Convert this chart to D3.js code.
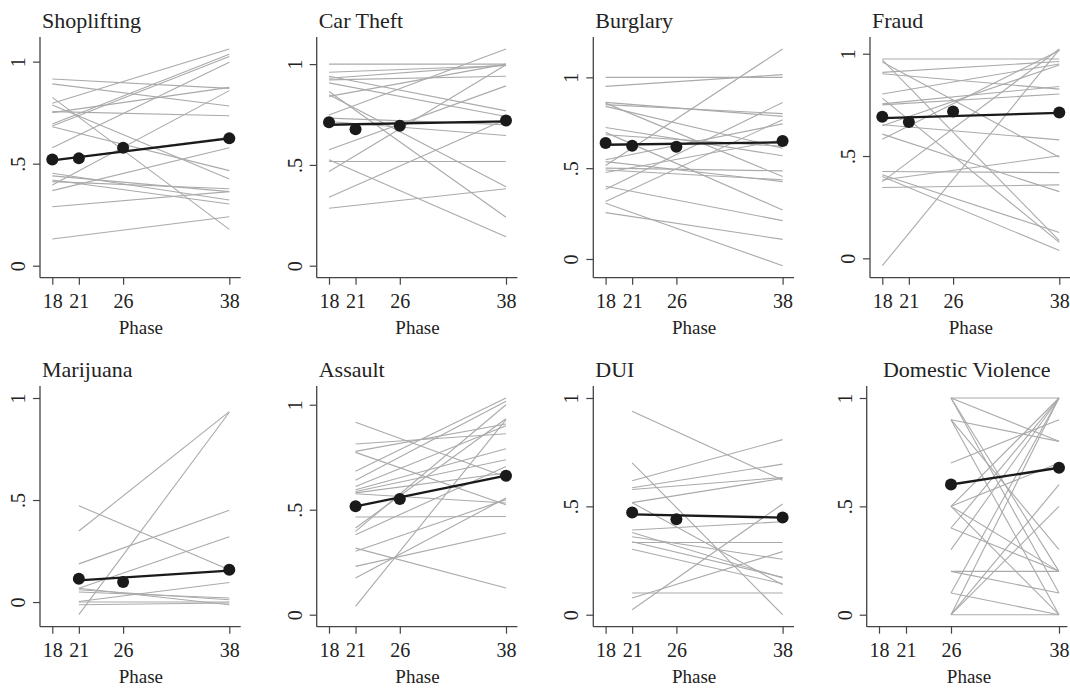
<!DOCTYPE html>
<html>
<head>
<meta charset="utf-8">
<script src="https://cdn.jsdelivr.net/npm/d3@7"></script>
<style>
  body { margin: 0; background: #fff; }
  svg text { font-family: "Liberation Serif", "Times New Roman", serif !important; fill: #222; }
</style>
</head>
<body>
<svg id="chart" width="1070" height="688"></svg>
<script>
// phases (age at interview) and crime types
var phases = [18, 21, 26, 38];
var crimes = ["Shoplifting", "Car Theft", "Burglary", "Fraud",
              "Marijuana", "Assault", "DUI", "Domestic Violence"];
var firstPhase = [18, 18, 18, 18, 21, 21, 21, 26];

// mean at each phase (null = not asked)
var phaseMeans = [
  [0.521, 0.526, 0.578, 0.624],
  [0.712, 0.677, 0.694, 0.720],
  [0.638, 0.623, 0.618, 0.649],
  [0.692, 0.666, 0.718, 0.713],
  [null, 0.114, 0.098, 0.158],
  [null, 0.516, 0.551, 0.662],
  [null, 0.472, 0.440, 0.449],
  [null, null, 0.601, 0.678]
];

// fitted average line: value at first phase, value at 38
var fitStart = [0.516, 0.699, 0.629, 0.685, 0.106, 0.516, 0.463, 0.601];
var fitEnd   = [0.624, 0.716, 0.642, 0.711, 0.154, 0.662, 0.448, 0.678];

// individual trajectories [value at first phase, value at 38]
var shoplifting = [[0.915,0.869],[0.891,0.783],[0.796,1.062],[0.825,0.178],[0.788,0.425],
  [0.755,0.735],[0.75,0.874],[0.694,1.036],[0.685,1.025],[0.681,0.466],[0.578,0.997],
  [0.395,0.858],[0.368,0.578],[0.453,0.322],[0.42,0.302],[0.412,0.377],[0.289,0.363],
  [0.131,0.240],[0.515,0.629],[0.44,0.363]];
var carTheft = [[1.0,1.0],[0.96,0.993],[0.922,0.94],[0.94,0.768],[0.907,0.74],[0.84,1.0],
  [0.848,0.392],[0.864,0.24],[0.748,1.075],[0.732,0.70],[0.715,0.646],[0.575,0.892],
  [0.517,0.517],[0.525,0.144],[0.467,0.997],[0.339,0.727],[0.285,0.382],[0.93,0.995]];
var burglary = [[1.0,1.0],[0.95,1.015],[0.862,0.785],[0.85,0.80],[0.84,0.61],[0.858,0.454],
  [0.724,0.568],[0.697,0.27],[0.684,0.62],[0.546,0.744],[0.515,1.156],[0.50,0.485],
  [0.49,0.436],[0.476,0.656],[0.384,0.862],[0.316,0.767],[0.40,0.211],[0.307,-0.037],
  [0.255,0.108],[0.536,0.426]];
var fraud = [[0.974,0.974],[0.909,0.962],[0.902,0.827],[0.97,0.086],[0.96,0.494],[0.803,0.95],
  [0.783,0.078],[0.755,0.84],[0.75,0.803],[0.653,0.579],[0.607,0.326],[0.582,1.016],
  [0.424,0.419],[0.408,0.126],[0.383,0.501],[0.375,1.023],[0.346,0.359],[-0.036,1.02],
  [0.40,0.038],[0.648,0.945]];
var marijuana = [[0.348,0.933],[-0.062,0.93],[0.472,0.158],[0.187,0.45],[0.068,0.32],
  [0.003,0.096],[0.068,-0.013],[0.06,0.011],[0.049,0.02],[0,0],[-0.013,-0.005]];
var assault = [[0.916,0.656],[0.813,0.862],[0.778,0.908],[0.773,0.524],[0.683,1.032],
  [0.64,1.016],[0.595,0.79],[0.587,0.738],[0.576,0.532],[0.465,0.468],[0.413,0.933],
  [0.397,1.0],[0.381,0.706],[0.317,0.127],[0.302,0.548],[0.23,0.389],[0.175,0.556],
  [0.04,0.929],[0.611,0.9],[0.58,0.675]];
var dui = [[0.939,0.621],[0.618,0.808],[0.586,0.695],[0.578,0.633],[0.517,0.629],[0.701,0],
  [0.391,0.429],[0.379,0.169],[0.36,0.256],[0.337,0.173],[0.302,0.143],[0.333,0.333],
  [0.1,0.1],[0.077,0.291],[0.023,0.511],[0.517,0.138]];
var domesticViolence = [[1,1],[1,0.8],[1,0.2],[0.9,0.8],[0.9,0],[0.7,0.9],[0.5,1],[0.5,0.7],
  [0.5,0.2],[0.5,0],[0.4,1],[0.4,0.2],[0.3,1],[0.2,0.2],[0.2,0.1],[0.1,1],[0.1,0],[0,1],
  [0,0.6],[0,0.5],[0,0],[0.9,0.3],[1,0.1]];

var trajectories = [shoplifting, carTheft, burglary, fraud,
                    marijuana, assault, dui, domesticViolence];
var yTicks = [0, 0.5, 1];

var svg = d3.select("#chart");
var colLeft = [40, 316.7, 593.3, 870];
var rowTop = [37, 386];
var plotW = 200.7, plotH = 240.7, pad = 12.3;

crimes.forEach(function(name, i) {
  var left = colLeft[i % 4], top = rowTop[Math.floor(i / 4)];
  var bottom = top + plotH;
  var xEnd = left + pad + 177;
  if (i === 7) { left -= 3.3; xEnd = left + pad + 180; } // last panel is a bit wider

  var lines = trajectories[i];
  var vals = d3.merge(lines).concat(yTicks);
  var x = d3.scaleLinear().domain([18, 38]).range([left + pad, xEnd]);
  var y = d3.scaleLinear().domain(d3.extent(vals)).range([bottom - 12, top + 12]);

  var g = svg.append("g");

  // individual trajectories
  g.selectAll("line.traj")
    .data(lines)
    .join("line")
    .attr("class", "traj")
    .attr("x1", x(firstPhase[i])).attr("x2", x(38))
    .attr("y1", function(d) { return y(d[0]); })
    .attr("y2", function(d) { return y(d[1]); })
    .attr("stroke", "#aaaaaa")
    .attr("stroke-width", 1.1);

  // fitted average
  g.append("line")
    .attr("x1", x(firstPhase[i])).attr("x2", x(38))
    .attr("y1", y(fitStart[i])).attr("y2", y(fitEnd[i]))
    .attr("stroke", "#1a1a1a")
    .attr("stroke-width", 2.4);

  var pts = phases.map(function(p, k) { return [p, phaseMeans[i][k]]; })
                  .filter(function(d) { return d[1] !== null; });
  g.selectAll("circle")
    .data(pts)
    .join("circle")
    .attr("cx", function(d) { return x(d[0]); })
    .attr("cy", function(d) { return y(d[1]); })
    .attr("r", 6)
    .attr("fill", "#1a1a1a");

  // axes
  var xAxis = g.append("g")
    .attr("transform", "translate(0," + bottom + ")")
    .call(d3.axisBottom(x).tickValues(phases).tickSize(7).tickSizeOuter(0).tickPadding(9));
  var yAxis = g.append("g")
    .attr("transform", "translate(" + left + ",0)")
    .call(d3.axisLeft(y).tickValues(yTicks).tickSize(7).tickSizeOuter(0)
      .tickFormat(function(d) { return d === 0.5 ? ".5" : d; }));

  xAxis.attr("font-size", 20);
  yAxis.attr("font-size", 20);
  xAxis.select(".domain").remove();
  yAxis.select(".domain").remove();
  g.selectAll(".tick line").attr("stroke", "#444").attr("stroke-width", 1.2);
  xAxis.selectAll("text").attr("fill", "#222");
  yAxis.selectAll("text")
    .attr("fill", "#222")
    .attr("x", null).attr("dy", null)
    .attr("text-anchor", "middle")
    .attr("transform", "translate(-15,0) rotate(-90)");

  g.append("line")
    .attr("x1", left).attr("x2", left).attr("y1", top).attr("y2", bottom)
    .attr("stroke", "#444").attr("stroke-width", 1.3);
  g.append("line")
    .attr("x1", left).attr("x2", Math.min(left + plotW, 1070)).attr("y1", bottom).attr("y2", bottom)
    .attr("stroke", "#444").attr("stroke-width", 1.3);

  g.append("text")
    .attr("x", (left + xEnd + pad) / 2)
    .attr("y", bottom + 56.5)
    .attr("text-anchor", "middle")
    .attr("font-size", 19)
    .text("Phase");

  var title = g.append("text")
    .attr("y", top - 9)
    .attr("font-size", 22)
    .text(name);
  if (i === 7) title.attr("x", left + 100).attr("text-anchor", "middle");
  else title.attr("x", left + 2);
});
</script>
</body>
</html>
